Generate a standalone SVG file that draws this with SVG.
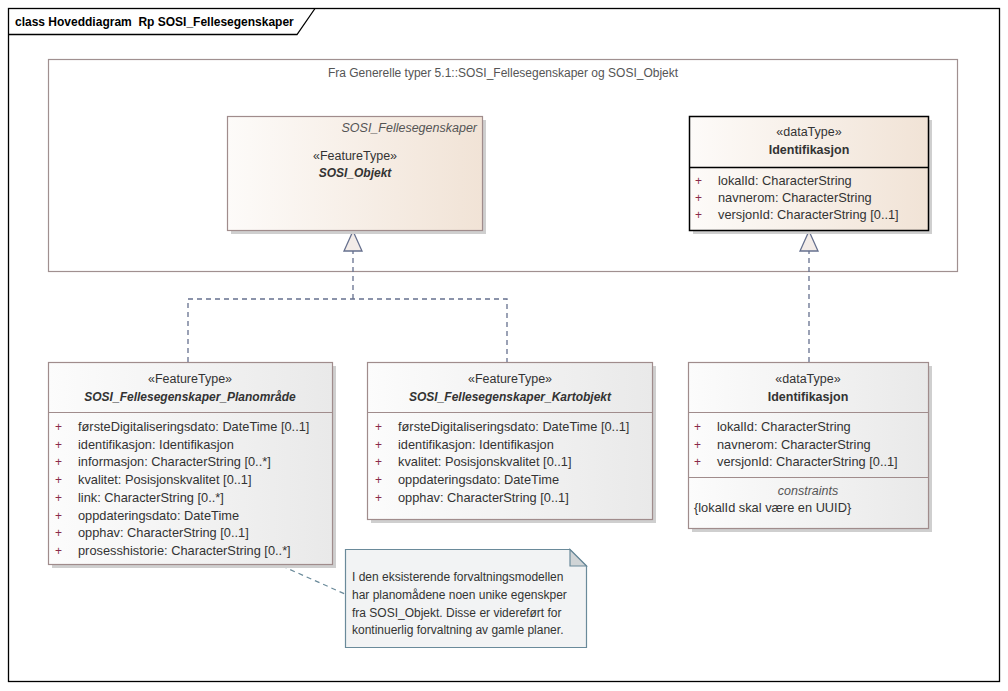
<svg xmlns="http://www.w3.org/2000/svg" width="1008" height="691" viewBox="0 0 1008 691">
<defs>
<linearGradient id="gBeige" x1="0" y1="0" x2="1" y2="0">
<stop offset="0" stop-color="#fdfbf9"/><stop offset="1" stop-color="#f1e3d6"/>
</linearGradient>
<linearGradient id="gGray" x1="0" y1="0" x2="1" y2="0">
<stop offset="0" stop-color="#fcfcfc"/><stop offset="1" stop-color="#e9e9e9"/>
</linearGradient>
<style>
text{font-family:"Liberation Sans",Arial,sans-serif;font-size:12px;fill:#333}
.a{font-size:12.8px}
.t{font-weight:bold;fill:#000}
.c{text-anchor:middle}
.s{font-size:12.5px}
.n{font-weight:bold}
.ni{font-weight:bold;font-style:italic}
.i{font-style:italic;fill:#555}
.p{fill:#8a2a4a}
.box{stroke:#a08c8c;stroke-width:1.2}
.sh{fill:#cfcfcf}
.div{stroke:#a08c8c;stroke-width:1}
.dash{fill:none;stroke:#66708e;stroke-width:1.3;stroke-dasharray:5,4}
.tri{fill:#f3ece8;stroke:#66708e;stroke-width:1.3}
</style>
</defs>
<rect width="1008" height="691" fill="#fff"/>
<g id="frame">
<rect x="8.5" y="8.5" width="991" height="673" fill="none" stroke="#000" stroke-width="1.3"/>
<path d="M8.5,34.5 H297 L315,8.5" fill="none" stroke="#000" stroke-width="1.3"/>
<text x="15" y="26" class="t">class Hoveddiagram&#160; Rp SOSI_Fellesegenskaper</text>
</g>
<g id="package">
<rect x="48.5" y="59.5" width="909" height="212" fill="none" stroke="#a09090" stroke-width="1.2"/>
<text x="503" y="77" class="c" style="fill:#555">Fra Generelle typer 5.1::SOSI_Fellesegenskaper og SOSI_Objekt</text>
</g>
<g id="connectors">
<path class="dash" d="M188,362 V299 H507 V362 M353,299 V251"/>
<polygon class="tri" points="353,231 344,251 362,251"/>
<path class="dash" d="M809,362 V251"/>
<polygon class="tri" points="809,231 800,251 818,251"/>
<path d="M282,566 L345,594" fill="none" stroke="#6a8a9a" stroke-width="1.2" stroke-dasharray="5,4"/>
</g>
<g id="SOSI_Objekt">
<rect x="231" y="120" width="255" height="114" class="sh"/>
<rect x="227.5" y="116.5" width="255" height="114" fill="url(#gBeige)" class="box"/>
<text x="477" y="132" class="i s" text-anchor="end">SOSI_Fellesegenskaper</text>
<text x="355" y="160" class="c s">«FeatureType»</text>
<text x="355" y="177" class="c ni">SOSI_Objekt</text>
</g>
<g id="Identifikasjon_top">
<rect x="693" y="120" width="239" height="114" class="sh"/>
<rect x="689.5" y="116.5" width="239" height="114" fill="url(#gBeige)" stroke="#000" stroke-width="1.5"/>
<line x1="689.5" y1="167.5" x2="928.5" y2="167.5" stroke="#000" stroke-width="1.5"/>
<text x="809" y="136" class="c s">«dataType»</text>
<text x="809" y="154" class="c n s">Identifikasjon</text>
<text x="695" y="185" class="p">+</text><text x="718" y="185" class="a">lokalId: CharacterString</text>
<text x="695" y="202" class="p">+</text><text x="718" y="202" class="a">navnerom: CharacterString</text>
<text x="695" y="219" class="p">+</text><text x="718" y="219" class="a">versjonId: CharacterString [0..1]</text>
</g>
<g id="Planomraade">
<rect x="52" y="366" width="284" height="202" class="sh"/>
<rect x="48.5" y="362.5" width="284" height="202" fill="url(#gGray)" class="box"/>
<line x1="48.5" y1="412.5" x2="332.5" y2="412.5" class="div"/>
<text x="190" y="383" class="c s">«FeatureType»</text>
<text x="190" y="401" class="c ni">SOSI_Fellesegenskaper_Planområde</text>
<text x="55" y="431" class="p">+</text><text x="78" y="431" class="a">førsteDigitaliseringsdato: DateTime [0..1]</text>
<text x="55" y="448.7" class="p">+</text><text x="78" y="448.7" class="a">identifikasjon: Identifikasjon</text>
<text x="55" y="466.4" class="p">+</text><text x="78" y="466.4" class="a">informasjon: CharacterString [0..*]</text>
<text x="55" y="484.1" class="p">+</text><text x="78" y="484.1" class="a">kvalitet: Posisjonskvalitet [0..1]</text>
<text x="55" y="501.8" class="p">+</text><text x="78" y="501.8" class="a">link: CharacterString [0..*]</text>
<text x="55" y="519.5" class="p">+</text><text x="78" y="519.5" class="a">oppdateringsdato: DateTime</text>
<text x="55" y="537.2" class="p">+</text><text x="78" y="537.2" class="a">opphav: CharacterString [0..1]</text>
<text x="55" y="554.9" class="p">+</text><text x="78" y="554.9" class="a">prosesshistorie: CharacterString [0..*]</text>
</g>
<g id="Kartobjekt">
<rect x="371" y="366" width="285" height="157" class="sh"/>
<rect x="367.5" y="362.5" width="285" height="157" fill="url(#gGray)" class="box"/>
<line x1="367.5" y1="412.5" x2="652.5" y2="412.5" class="div"/>
<text x="510" y="383" class="c s">«FeatureType»</text>
<text x="510" y="401" class="c ni">SOSI_Fellesegenskaper_Kartobjekt</text>
<text x="375" y="431" class="p">+</text><text x="398" y="431" class="a">førsteDigitaliseringsdato: DateTime [0..1]</text>
<text x="375" y="448.7" class="p">+</text><text x="398" y="448.7" class="a">identifikasjon: Identifikasjon</text>
<text x="375" y="466.4" class="p">+</text><text x="398" y="466.4" class="a">kvalitet: Posisjonskvalitet [0..1]</text>
<text x="375" y="484.1" class="p">+</text><text x="398" y="484.1" class="a">oppdateringsdato: DateTime</text>
<text x="375" y="501.8" class="p">+</text><text x="398" y="501.8" class="a">opphav: CharacterString [0..1]</text>
</g>
<g id="Identifikasjon_bottom">
<rect x="692" y="366" width="240" height="166" class="sh"/>
<rect x="688.5" y="362.5" width="240" height="166" fill="url(#gGray)" class="box"/>
<line x1="688.5" y1="412.5" x2="928.5" y2="412.5" class="div"/>
<line x1="688.5" y1="477.5" x2="928.5" y2="477.5" class="div"/>
<text x="808" y="383" class="c s">«dataType»</text>
<text x="808" y="401" class="c n s">Identifikasjon</text>
<text x="694" y="431" class="p">+</text><text x="717" y="431" class="a">lokalId: CharacterString</text>
<text x="694" y="448.7" class="p">+</text><text x="717" y="448.7" class="a">navnerom: CharacterString</text>
<text x="694" y="466.4" class="p">+</text><text x="717" y="466.4" class="a">versjonId: CharacterString [0..1]</text>
<text x="808" y="495" class="c i s">constraints</text>
<text x="694" y="512" class="a">{lokalId skal være en UUID}</text>
</g>
<g id="note">
<path d="M345.5,549.5 H570 L586.5,566 V647.5 H345.5 Z" fill="#f2f3f4" stroke="#6a8a9a" stroke-width="1.2"/>
<path d="M570,549.5 V566 H586.5 Z" fill="#d0d4d6" stroke="#6a8a9a" stroke-width="1.2"/>
<text x="352" y="581">I den eksisterende forvaltningsmodellen</text>
<text x="352" y="599">har planomådene noen unike egenskper</text>
<text x="352" y="617">fra SOSI_Objekt. Disse er videreført for</text>
<text x="352" y="634">kontinuerlig forvaltning av gamle planer.</text>
</g>
</svg>
